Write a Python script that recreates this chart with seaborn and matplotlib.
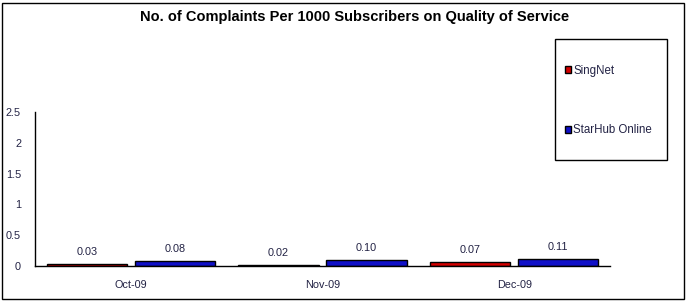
import matplotlib
matplotlib.use("Agg")
import matplotlib.pyplot as plt
import seaborn as sns
import pandas as pd
from matplotlib.patches import Rectangle, Patch
from matplotlib.ticker import FuncFormatter

months = ["Oct-09", "Nov-09", "Dec-09"]
series = ["SingNet", "StarHub Online"]
singnet = [0.03, 0.02, 0.07]
starhub = [0.08, 0.10, 0.11]
colors = ["#d40000", "#1010c8"]
yticks = [0, 0.5, 1, 1.5, 2, 2.5]

df = pd.DataFrame({
    "Month": months * 2,
    "Provider": [series[0]] * 3 + [series[1]] * 3,
    "Value": singnet + starhub,
})

sns.set_style("white")
plt.rcParams["font.family"] = ["Liberation Sans", "DejaVu Sans"]
txt = "#222244"

fig = plt.figure(figsize=(6.86, 3.01), dpi=100)
ax = fig.add_axes([35/686, 1-266/301, (610-35)/686, (266-112)/301])

sns.barplot(data=df, x="Month", y="Value", hue="Provider", order=months,
            hue_order=series, palette=colors, edgecolor="black", linewidth=1,
            width=0.92, gap=0.09, ax=ax, legend=False, saturation=1)

for cont in ax.containers:
    ax.bar_label(cont, fmt="%.2f", padding=5, fontsize=7.8, color=txt)

ax.set_xlim(-0.5, 2.5)
ax.set_ylim(0, 2.5)
ax.set_yticks(yticks)
ax.yaxis.set_major_formatter(FuncFormatter(lambda v, p: f"{v:g}"))
ax.set_xticks([0, 1, 2])
ax.set_xticklabels(months)
ax.set_xticks([0.5, 1.5, 2.5], minor=True)
ax.tick_params(axis="x", which="major", length=0, pad=10, labelsize=7.8, labelcolor=txt)
ax.tick_params(axis="x", which="minor", length=4, width=1, direction="out", color="black")
ax.tick_params(axis="y", length=4, width=1, direction="out", color="black", labelsize=7.8, labelcolor=txt, pad=6)
ax.set_xlabel("")
ax.set_ylabel("")
for s in ["top", "right"]:
    ax.spines[s].set_visible(False)
for s in ["left", "bottom"]:
    ax.spines[s].set_color("black")
    ax.spines[s].set_linewidth(1)

fig.text(355/686, 1-17/301, "No. of Complaints Per 1000 Subscribers on Quality of Service",
         ha="center", va="center", fontsize=10.5, fontweight="bold", color="black")

# legend frame
fig.add_artist(Rectangle((555/686, 1-160/301), (667-555)/686, (160-39)/301,
                         transform=fig.transFigure, fill=False, edgecolor="black", linewidth=1))

handles = [Patch(facecolor=c, edgecolor="black", linewidth=1) for c in colors]
leg = fig.legend(handles, series, loc="upper left",
                 bbox_to_anchor=(565/686, 1-65/301),
                 fontsize=8.3, frameon=False, labelspacing=4.1, borderpad=0,
                 handlelength=0.55, handleheight=0.55, handletextpad=0.15,
                 borderaxespad=0)
for t in leg.get_texts():
    t.set_color(txt)

fig.add_artist(Rectangle((2/686, 2/301), 682/686, 296/301, transform=fig.transFigure,
                         fill=False, edgecolor="black", linewidth=1))

fig.savefig("out.png", dpi=100)
